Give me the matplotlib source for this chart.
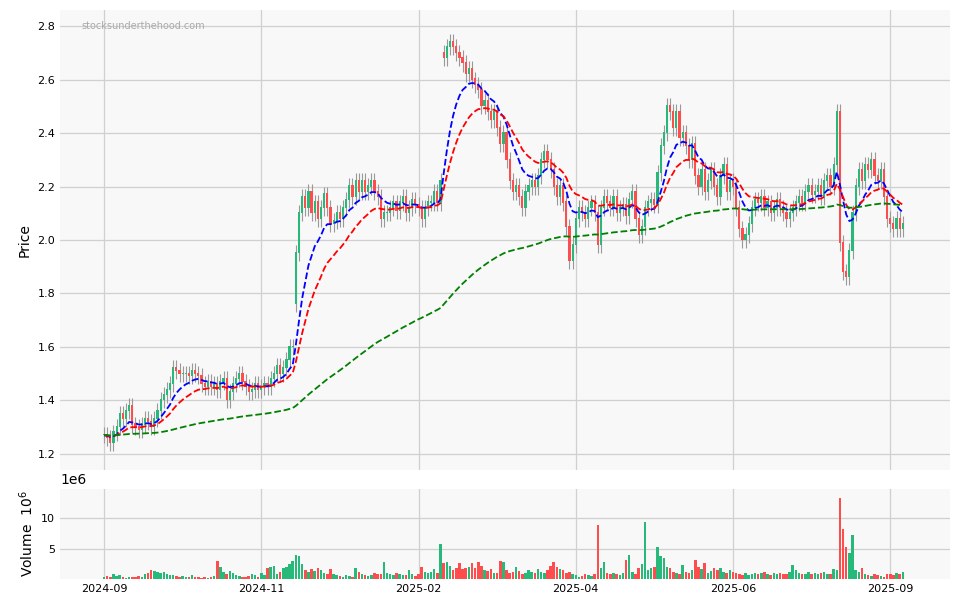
import matplotlib
matplotlib.use("Agg")
import matplotlib.pyplot as plt
import numpy as np
import pandas as pd

closes = [1.27,1.26,1.24,1.28,1.30,1.35,1.33,1.36,1.38,1.31,
          1.30,1.29,1.31,1.33,1.32,1.30,1.33,1.36,1.40,1.42,
          1.44,1.46,1.52,1.51,1.50,1.50,1.50,1.49,1.51,1.50,
          1.49,1.46,1.45,1.47,1.45,1.46,1.44,1.47,1.48,1.40,
          1.43,1.46,1.48,1.50,1.47,1.45,1.43,1.44,1.46,1.44,
          1.45,1.46,1.45,1.48,1.50,1.53,1.50,1.52,1.55,1.60,
          1.60,1.95,2.10,2.16,2.12,2.18,2.10,2.14,2.08,2.12,
          2.17,2.12,2.06,2.07,2.10,2.08,2.12,2.15,2.20,2.16,
          2.22,2.18,2.22,2.18,2.20,2.22,2.18,2.16,2.08,2.10,
          2.10,2.12,2.14,2.11,2.14,2.16,2.10,2.12,2.15,2.13,
          2.12,2.08,2.12,2.14,2.14,2.18,2.14,2.22,2.68,2.72,
          2.74,2.72,2.70,2.68,2.66,2.62,2.64,2.60,2.58,2.56,
          2.50,2.52,2.48,2.45,2.48,2.42,2.36,2.40,2.30,2.22,
          2.18,2.20,2.16,2.12,2.18,2.20,2.22,2.20,2.24,2.30,
          2.33,2.30,2.26,2.20,2.16,2.20,2.14,2.05,1.92,1.98,
          2.08,2.12,2.10,2.08,2.12,2.14,2.10,1.98,2.12,2.16,
          2.14,2.12,2.16,2.10,2.12,2.13,2.09,2.15,2.18,2.08,
          2.02,2.05,2.12,2.14,2.15,2.13,2.25,2.35,2.40,2.50,
          2.48,2.42,2.48,2.38,2.40,2.35,2.30,2.36,2.24,2.20,
          2.26,2.18,2.22,2.26,2.20,2.16,2.24,2.28,2.18,2.22,
          2.20,2.12,2.04,2.00,2.02,2.06,2.12,2.15,2.14,2.16,
          2.12,2.14,2.10,2.12,2.15,2.12,2.10,2.08,2.10,2.12,
          2.14,2.16,2.14,2.18,2.20,2.17,2.18,2.20,2.16,2.22,
          2.24,2.20,2.28,2.48,1.99,1.88,1.86,1.96,2.10,2.20,
          2.26,2.22,2.28,2.26,2.30,2.24,2.22,2.26,2.16,2.08,
          2.06,2.04,2.08,2.04,2.06]
opens = [1.27] + closes[:-1]
opens[61] = 1.76
opens[108] = 2.70
opens[234] = 2.48

volumes = [0.4,0.5,0.3,0.8,0.5,0.6,0.3,0.2,0.4,0.3,
           0.3,0.5,0.4,0.8,1.0,1.5,1.3,1.2,1.0,1.1,
           0.9,0.7,0.6,0.5,0.4,0.5,0.3,0.4,0.6,0.4,
           0.3,0.2,0.3,0.2,0.4,0.5,3.0,2.0,1.2,0.8,
           1.3,1.0,0.6,0.5,0.4,0.3,0.5,0.8,0.6,0.4,
           1.0,0.7,1.8,2.0,2.2,0.8,1.2,1.8,2.0,2.5,
           3.0,3.9,3.8,2.5,1.5,1.2,1.6,1.3,1.8,1.5,
           1.0,0.8,1.6,0.9,0.6,0.5,0.4,0.6,0.5,0.4,
           1.8,1.2,0.8,0.6,0.5,0.6,1.0,0.8,0.9,2.8,
           1.0,0.8,0.6,1.0,0.8,0.6,0.7,1.5,0.9,0.5,
           0.8,2.0,1.2,1.0,1.2,1.6,1.0,5.8,2.6,2.8,
           2.2,1.5,1.8,2.6,1.6,1.8,2.0,2.6,1.8,2.8,
           2.2,1.5,1.3,1.6,1.0,1.0,2.9,2.8,1.4,1.0,
           1.2,2.0,1.3,0.9,1.0,1.5,1.2,1.0,1.6,1.2,
           1.0,1.5,2.2,2.8,2.0,1.6,1.4,1.0,1.2,0.8,
           0.6,0.4,0.5,0.8,0.6,0.5,0.8,8.8,1.8,2.8,
           1.0,0.8,1.0,0.8,0.6,1.0,3.2,4.0,1.2,0.8,
           1.8,2.5,9.3,1.5,1.8,2.0,5.3,3.8,3.5,2.0,
           1.8,1.2,1.0,0.8,2.3,1.2,1.0,1.5,3.2,2.0,
           1.6,2.7,1.0,1.3,1.8,1.4,1.8,1.2,1.0,1.5,
           1.2,1.0,0.8,0.6,1.0,0.7,0.9,1.0,0.8,1.0,
           1.2,0.8,0.6,1.0,0.9,1.0,0.8,0.9,1.2,2.3,
           1.5,1.0,0.9,0.8,1.2,0.9,1.0,0.8,1.0,1.2,
           0.8,0.9,1.6,1.5,13.3,8.3,5.3,4.3,7.2,1.5,
           1.2,1.8,0.8,0.6,0.5,0.9,0.6,0.5,0.4,0.9,
           0.8,0.7,1.0,0.9,1.2]

tick_pos = [0, 50, 100, 150, 200, 250]
tick_labels = ["2024-09", "2024-11", "2025-02", "2025-04", "2025-06", "2025-09"]

c = np.array(closes); o = np.array(opens); v = np.array(volumes)
n = len(c); x = np.arange(n)
hi = np.maximum(o, c) + 0.03
lo = np.minimum(o, c) - 0.03
s = pd.Series(c)
ma1 = s.ewm(span=10, adjust=False).mean()
ma2 = s.ewm(span=20, adjust=False).mean()
ma3 = s.ewm(span=140, adjust=False).mean()

up = "#26b97a"; dn = "#ff4d4d"
cols = np.where(c >= o, up, dn)

fig = plt.figure(figsize=(9.59, 6.11), dpi=100)
ax = fig.add_axes([60/959, 141/611, 890/959, 460/611])
axv = fig.add_axes([60/959, 32/611, 890/959, 90/611], sharex=ax)
for a in (ax, axv):
    a.set_facecolor("#f8f8f8")
    for sp in a.spines.values():
        sp.set_visible(False)
    a.grid(True, color="#d0d0d0", linewidth=0.9)
    a.set_axisbelow(True)
    a.tick_params(length=0, labelsize=8)

ax.vlines(x, lo, hi, color="#999999", linewidth=0.8, zorder=2)
ax.bar(x, np.abs(c - o) + 0.004, bottom=np.minimum(o, c), width=0.7, color=cols, zorder=3)
ax.plot(x, ma1, "--", color="blue", lw=1.3, zorder=4)
ax.plot(x, ma2, "--", color="red", lw=1.3, zorder=4)
ax.plot(x, ma3, "--", color="green", lw=1.3, zorder=4)
ax.set_ylim(1.14, 2.86)
ax.set_yticks([1.2,1.4,1.6,1.8,2.0,2.2,2.4,2.6,2.8])
ax.set_ylabel("Price", fontsize=10)
ax.text(0.024, 0.975, "stocksunderthehood.com", transform=ax.transAxes,
        fontsize=7, color="#aaaaaa", va="top")
plt.setp(ax.get_xticklabels(), visible=False)

axv.bar(x, v, width=0.8, color=cols)
axv.set_ylim(0, 14.8)
axv.set_yticks([5, 10])
axv.set_ylabel("Volume  $10^6$", fontsize=10)
axv.text(0.0, 1.02, "1e6", transform=axv.transAxes, fontsize=10, ha="left", va="bottom")
axv.set_xticks(tick_pos)
axv.set_xticklabels(tick_labels)
axv.set_xlim(-14, n + 14)

fig.savefig("out.png", dpi=100)
